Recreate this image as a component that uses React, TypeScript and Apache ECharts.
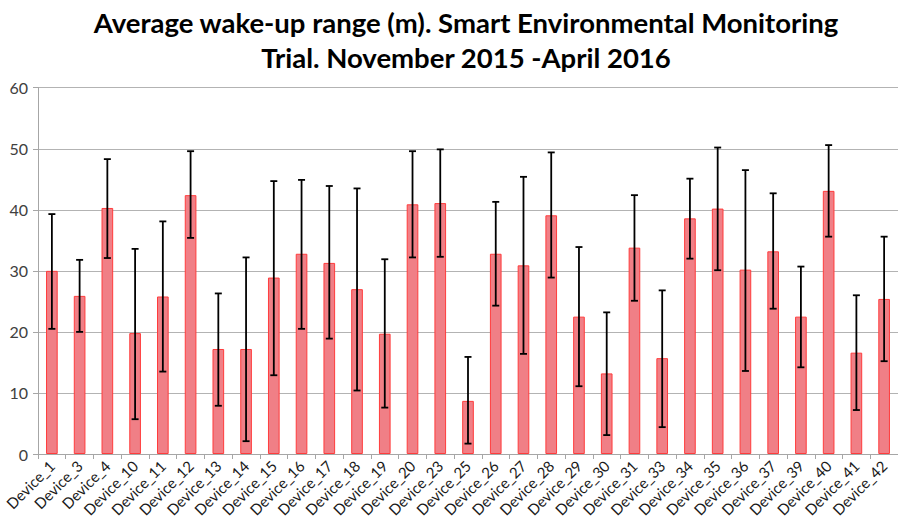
import React, { useEffect, useRef } from "react";
import * as echarts from "echarts";

const categories = [
  "Device_1", "Device_3", "Device_4", "Device_10", "Device_11", "Device_12", "Device_13", "Device_14",
  "Device_15", "Device_16", "Device_17", "Device_18", "Device_19", "Device_20", "Device_23", "Device_25",
  "Device_26", "Device_27", "Device_28", "Device_29", "Device_30", "Device_31", "Device_33", "Device_34",
  "Device_35", "Device_36", "Device_37", "Device_39", "Device_40", "Device_41", "Device_42",
];

const averages = [
  30.0, 25.9, 40.3, 19.8, 25.8, 42.4, 17.2, 17.2,
  28.9, 32.8, 31.3, 27.0, 19.7, 40.9, 41.1, 8.7,
  32.8, 30.9, 39.1, 22.5, 13.2, 33.8, 15.7, 38.6,
  40.2, 30.2, 33.2, 22.5, 43.1, 16.6, 25.4,
];

const errHigh = [
  39.3, 31.8, 48.3, 33.6, 38.1, 49.6, 26.3, 32.2,
  44.7, 44.9, 43.9, 43.5, 31.9, 49.6, 49.9, 15.9,
  41.3, 45.4, 49.4, 33.9, 23.2, 42.4, 26.8, 45.1,
  50.2, 46.5, 42.7, 30.7, 50.6, 26.0, 35.6,
];

const errLow = [
  20.5, 20.0, 32.1, 5.7, 13.5, 35.4, 7.9, 2.1,
  12.9, 20.5, 18.9, 10.4, 7.6, 32.2, 32.3, 1.7,
  24.3, 16.4, 28.9, 11.1, 3.1, 25.1, 4.4, 32.0,
  30.1, 13.6, 23.8, 14.2, 35.6, 7.2, 15.2,
];

const titleLines = [
  "Average wake-up range (m). Smart Environmental Monitoring",
  "Trial. November 2015 -April 2016",
];

export default function App() {
  const ref = useRef<HTMLDivElement>(null);

  useEffect(() => {
    if (!ref.current) return;
    const chart = echarts.init(ref.current, undefined, { renderer: "svg" });
    const errData = categories.map((_, i) => [i, errLow[i], errHigh[i]]);
    chart.setOption({
      animation: false,
      backgroundColor: "#ffffff",
      title: {
        text: titleLines.join("\n"),
        left: 461,
        textAlign: "center",
        top: 0,
        textStyle: {
          fontFamily: "Lato",
          fontWeight: "bold",
          fontSize: 27.5,
          lineHeight: 35,
          color: "#000000",
        },
      },
      grid: { left: 38, right: -2, top: 87.7, bottom: 71 },
      xAxis: {
        type: "category",
        data: categories,
        boundaryGap: true,
        axisLine: { show: true, lineStyle: { color: "#a6a6a6", width: 1 } },
        axisTick: { show: true, alignWithLabel: false, length: 5, lineStyle: { color: "#a6a6a6" } },
        axisLabel: {
          interval: 0,
          rotate: 45,
          margin: 9,
          fontFamily: "Lato",
          fontSize: 15,
          color: "#1a1a1a",
        },
        splitLine: { show: false },
      },
      yAxis: {
        type: "value",
        min: 0,
        max: 60,
        interval: 10,
        axisLine: { show: true, lineStyle: { color: "#a6a6a6", width: 1 } },
        axisTick: { show: true, inside: false, length: 5, lineStyle: { color: "#a6a6a6" } },
        axisLabel: {
          margin: 10,
          fontFamily: "Lato",
          fontSize: 16,
          color: "#404040",
        },
        splitLine: { show: true, lineStyle: { color: "#b3b3b3", width: 1 } },
      },
      series: [
        {
          type: "bar",
          data: averages,
          barWidth: "42%",
          itemStyle: {
            color: "#f07f86",
            borderColor: "#ff3c3c",
            borderWidth: 1,
          },
        },
        {
          type: "custom",
          data: errData,
          encode: { x: 0, y: [1, 2] },
          z: 10,
          renderItem: (params: any, api: any) => {
            const idx = api.value(0);
            const lo = api.value(1);
            const hi = api.value(2);
            const pHi = api.coord([idx, hi]);
            const pLo = api.coord([idx, lo]);
            const hw = 3.5;
            const style = { stroke: "#000000", lineWidth: 1.8, fill: "none" };
            return {
              type: "group",
              children: [
                { type: "line", shape: { x1: pHi[0], y1: pHi[1], x2: pLo[0], y2: pLo[1] }, style },
                { type: "line", shape: { x1: pHi[0] - hw, y1: pHi[1], x2: pHi[0] + hw, y2: pHi[1] }, style },
                { type: "line", shape: { x1: pLo[0] - hw, y1: pLo[1], x2: pLo[0] + hw, y2: pLo[1] }, style },
              ],
            };
          },
        },
      ],
    });
    return () => chart.dispose();
  }, []);

  return (
    <div
      ref={ref}
      style={{ position: "absolute", left: 0, top: 0, width: 898, height: 525 }}
    />
  );
}
